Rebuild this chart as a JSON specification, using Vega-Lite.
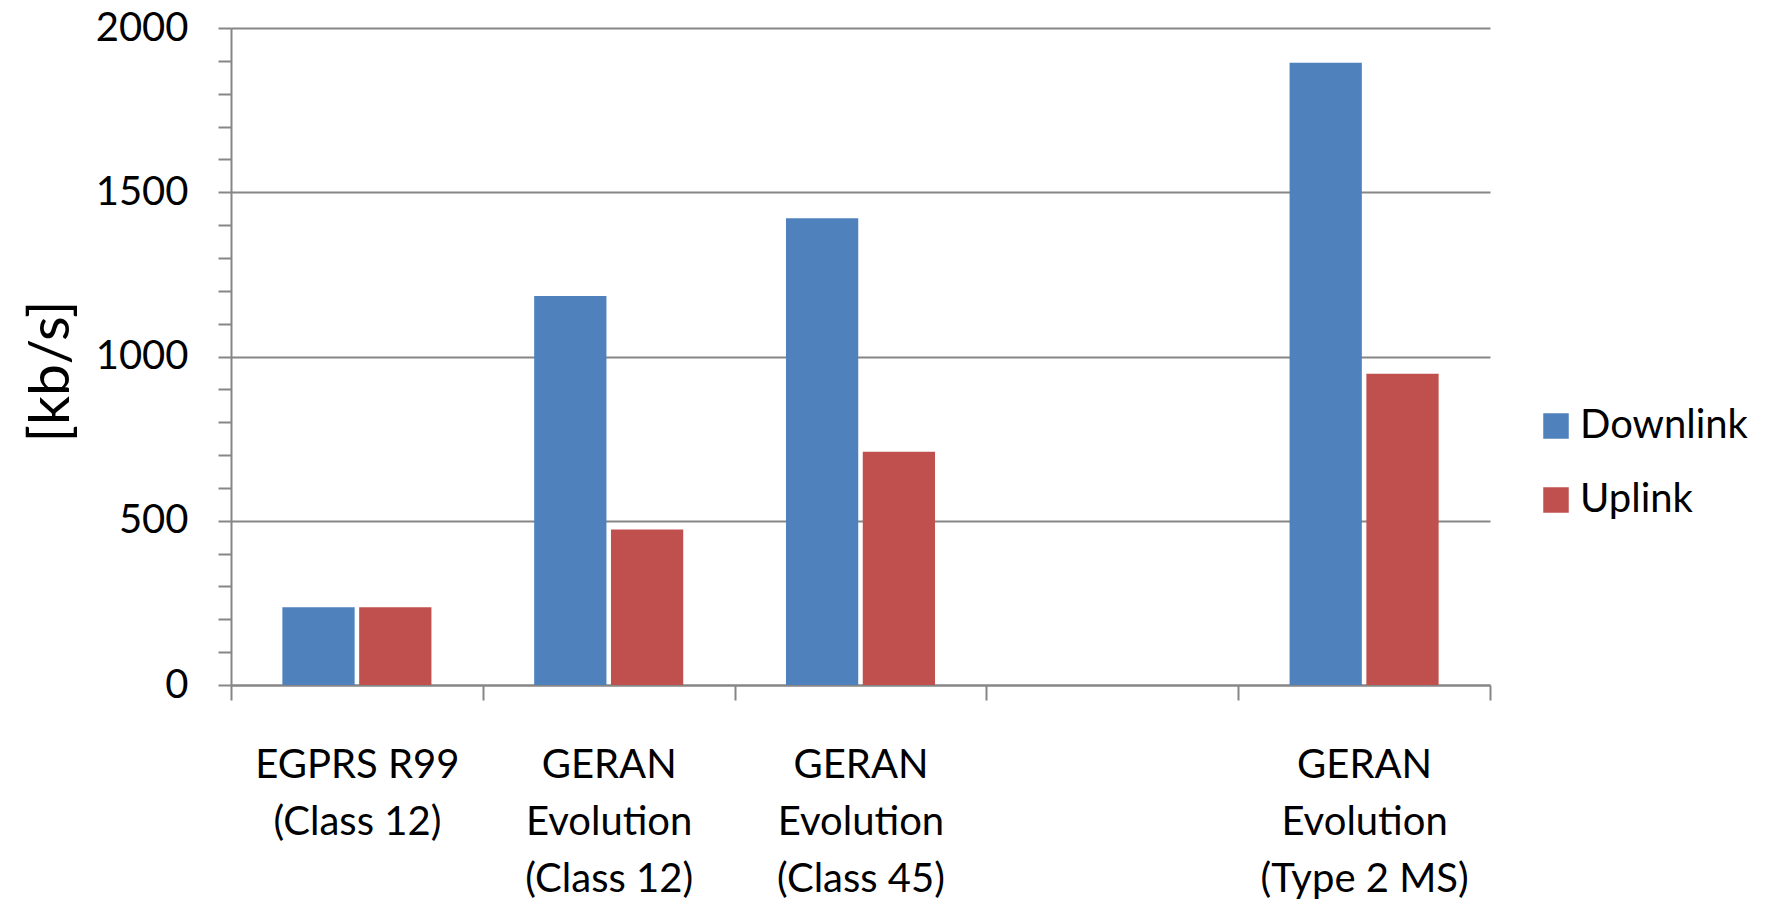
{
  "$schema": "https://vega.github.io/schema/vega-lite/v6.json",
  "autosize": {"type": "none"},
  "padding": {"left": 231, "top": 28, "right": 285, "bottom": 219},
  "width": 1259,
  "height": 657,
  "background": "white",
  "config": {
    "view": {"stroke": null},
    "font": "Lato"
  },
  "data": {
    "values": [
      {"system": "EGPRS R99|(Class 12)", "link": "Downlink", "rate": 236.8},
      {"system": "EGPRS R99|(Class 12)", "link": "Uplink", "rate": 236.8},
      {"system": "GERAN|Evolution|(Class 12)", "link": "Downlink", "rate": 1184},
      {"system": "GERAN|Evolution|(Class 12)", "link": "Uplink", "rate": 473.6},
      {"system": "GERAN|Evolution|(Class 45)", "link": "Downlink", "rate": 1420.8},
      {"system": "GERAN|Evolution|(Class 45)", "link": "Uplink", "rate": 710.4},
      {"system": "GERAN|Evolution|(Type 2 MS)", "link": "Downlink", "rate": 1894.4},
      {"system": "GERAN|Evolution|(Type 2 MS)", "link": "Uplink", "rate": 947.2}
    ]
  },
  "mark": {"type": "bar"},
  "encoding": {
    "x": {
      "field": "system",
      "type": "nominal",
      "sort": null,
      "scale": {
        "domain": ["EGPRS R99|(Class 12)", "GERAN|Evolution|(Class 12)", "GERAN|Evolution|(Class 45)", " ", "GERAN|Evolution|(Type 2 MS)"],
        "paddingInner": 0,
        "paddingOuter": 0
      },
      "axis": {
        "title": null,
        "labelAngle": 0,
        "labelExpr": "split(datum.label, '|')",
        "labelFontSize": 40,
        "labelColor": "#000000",
        "labelLineHeight": 57,
        "labelPadding": 45,
        "labelBaseline": "top",
        "labelLimit": 0,
        "tickBand": "extent",
        "tickSize": 15,
        "tickWidth": 2,
        "tickColor": "#868686",
        "domainColor": "#868686",
        "domainWidth": 2
      }
    },
    "xOffset": {
      "field": "link",
      "type": "nominal",
      "scale": {"paddingInner": 0.059, "paddingOuter": 0.669}
    },
    "y": {
      "field": "rate",
      "type": "quantitative",
      "scale": {"domain": [0, 2000], "nice": false},
      "axis": {
        "title": "[kb/s]",
        "titleFontSize": 57,
        "titleFontWeight": "normal",
        "titleColor": "#000000",
        "titleX": -180,
        "titleY": 343,
        "titleBaseline": "middle",
        "values": [0, 100, 200, 300, 400, 500, 600, 700, 800, 900, 1000, 1100, 1200, 1300, 1400, 1500, 1600, 1700, 1800, 1900, 2000],
        "labelExpr": "datum.value % 500 === 0 ? datum.label : ''",
        "format": "d",
        "labelFontSize": 40,
        "labelColor": "#000000",
        "labelPadding": 30,
        "tickSize": 13,
        "tickWidth": 2,
        "tickColor": "#868686",
        "domainColor": "#868686",
        "domainWidth": 2,
        "grid": true,
        "gridWidth": 2,
        "gridColor": {"condition": {"test": "datum.value % 500 === 0", "value": "#868686"}, "value": "transparent"}
      }
    },
    "color": {
      "field": "link",
      "type": "nominal",
      "scale": {"domain": ["Downlink", "Uplink"], "range": ["#4F81BD", "#C0504D"]},
      "legend": {
        "title": null,
        "orient": "none",
        "legendX": 1305,
        "legendY": 378,
        "symbolType": "square",
        "symbolSize": 650,
        "symbolStrokeWidth": 0,
        "symbolOpacity": 1,
        "labelFontSize": 40,
        "labelColor": "#000000",
        "labelOffset": 4,
        "labelLimit": 0,
        "rowPadding": 34
      }
    }
  }
}
